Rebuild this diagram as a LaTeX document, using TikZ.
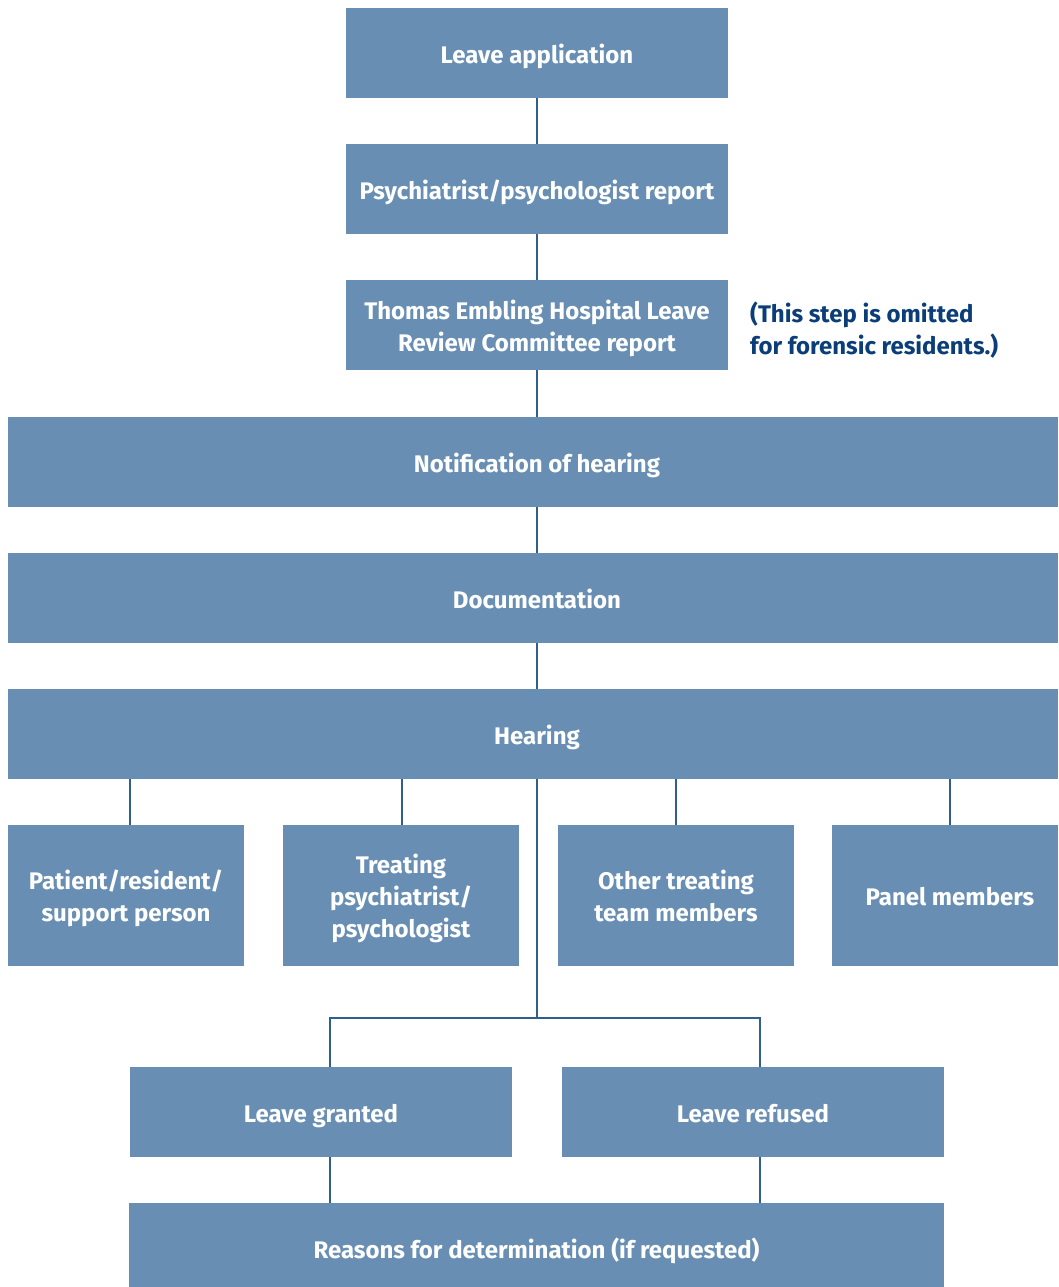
\documentclass[tikz,border=0pt]{standalone}
\usepackage{fontspec}
\setmainfont{Fira Sans}
\definecolor{boxblue}{HTML}{688FB3}
\definecolor{linkblue}{HTML}{2F5F8F}
\definecolor{noteblue}{HTML}{0B3D78}
\begin{document}
\begin{tikzpicture}[x=1pt,y=-1pt,
  stepbox/.style={fill=boxblue,draw=none,text=white,font=\fontsize{24}{32}\selectfont\bfseries,align=center,inner sep=0pt},
  link/.style={draw=linkblue,line width=1.3pt}]
\useasboundingbox (0,0) rectangle (1058,1287);
\newcommand{\boxat}[6]{\node[stepbox,minimum width=#4-#2,minimum height=#5-#3] (#1) at ({(#2+#4)/2},{(#3+#5)/2}) {\parbox{\dimexpr #4pt-#2pt-4pt\relax}{\centering\rule{0pt}{30pt}#6\strut}};}
\boxat{app}{346}{8}{728}{98}{Leave application}
\boxat{psy}{346}{144}{728}{234}{Psychiatrist/psychologist report}
\boxat{tom}{346}{280}{728}{370}{Thomas Embling Hospital Leave\\Review Committee report}
\node[anchor=west,text=noteblue,font=\fontsize{24}{32}\selectfont\bfseries,align=left,inner sep=0pt] (note) at (750,330) {(This step is omitted\\for forensic residents.)};
\boxat{notif}{8}{417}{1058}{507}{\hspace*{8pt}Notification of hearing}
\boxat{doc}{8}{553}{1058}{643}{\hspace*{8pt}Documentation}
\boxat{hear}{8}{689}{1058}{779}{\hspace*{8pt}Hearing}
\boxat{pat}{8}{825}{244}{966}{Patient/resident/\\support person}
\boxat{treat}{283}{825}{519}{966}{Treating\\psychiatrist/\\psychologist}
\boxat{other}{558}{825}{794}{966}{Other treating\\team members}
\boxat{panel}{832}{825}{1058}{966}{\hspace*{10pt}Panel members}
\boxat{gran}{130}{1067}{512}{1157}{Leave granted}
\boxat{ref}{562}{1067}{944}{1157}{Leave refused}
\boxat{reas}{129}{1203}{944}{1293}{Reasons for determination (if requested)}
\coordinate (split) at (537,1018);
\draw[link] (app.south) -- (psy.north);
\draw[link] (psy.south) -- (tom.north);
\draw[link] (tom.south) -- (tom.south |- notif.north);
\draw[link] (537,507) coordinate (n1) -- (537,553) coordinate (d1);
\draw[link] (537,643) -- (537,689);
\draw[link] (130,779) coordinate (h1) -- (pat.north -| h1);
\draw[link] (402,779) coordinate (h2) -- (treat.north -| h2);
\draw[link] (676,779) coordinate (h3) -- (other.north -| h3);
\draw[link] (950,779) coordinate (h4) -- (panel.north -| h4);
\draw[link] (537,779) coordinate (h5) -- (split);
\draw[link] (330,1067) coordinate (g1) |- (split) -| (760,1067) coordinate (r1);
\draw[link] (330,1157) -- (330,1203);
\draw[link] (760,1157) -- (760,1203);
\end{tikzpicture}
\end{document}
